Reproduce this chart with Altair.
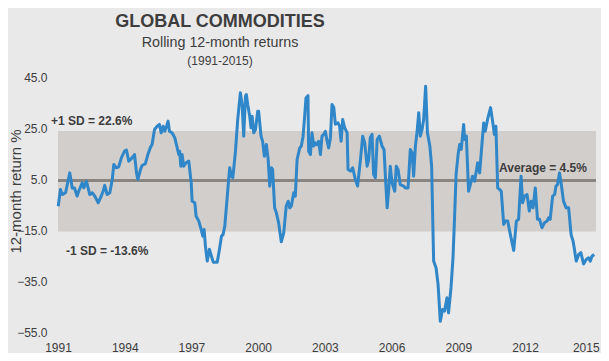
import altair as alt
import pandas as pd

# ---- data ----
years = [
    1991.01, 1991.11, 1991.19, 1991.34, 1991.53, 1991.64, 1991.74, 1991.86, 1991.93,
    1992.09, 1992.16, 1992.28, 1992.43, 1992.54, 1992.64, 1992.81, 1992.91,
    1993.03, 1993.10, 1993.21, 1993.33, 1993.44, 1993.51, 1993.62, 1993.73, 1993.85, 1993.99,
    1994.08, 1994.18, 1994.33, 1994.44, 1994.53, 1994.59, 1994.71, 1994.78, 1994.93,
    1995.04, 1995.16, 1995.23, 1995.34, 1995.46, 1995.56, 1995.64, 1995.73, 1995.80, 1995.88, 1995.95,
    1996.01, 1996.13, 1996.25, 1996.36, 1996.43, 1996.47, 1996.52, 1996.58, 1996.65, 1996.76, 1996.88, 1996.99,
    1997.03, 1997.15, 1997.21, 1997.33, 1997.44, 1997.51, 1997.57, 1997.63, 1997.71, 1997.81, 1997.90, 1997.98,
    1998.16, 1998.26, 1998.35, 1998.42, 1998.50, 1998.60, 1998.68, 1998.72, 1998.80, 1998.86, 1998.98,
    1999.08, 1999.20, 1999.28, 1999.35, 1999.43, 1999.47, 1999.53, 1999.62, 1999.68, 1999.73, 1999.80, 1999.88, 1999.98,
    2000.02, 2000.13, 2000.20, 2000.28, 2000.37, 2000.45, 2000.52, 2000.60, 2000.65, 2000.74, 2000.82, 2000.92,
    2001.04, 2001.15, 2001.26, 2001.35, 2001.42, 2001.49, 2001.60, 2001.67, 2001.75, 2001.87, 2001.94,
    2002.02, 2002.09, 2002.15, 2002.24, 2002.27, 2002.35, 2002.42, 2002.50, 2002.57, 2002.65, 2002.72, 2002.80, 2002.87, 2002.95,
    2003.02, 2003.10, 2003.17, 2003.25, 2003.32, 2003.40, 2003.47, 2003.59, 2003.66, 2003.73, 2003.80, 2003.89,
    2004.00, 2004.04, 2004.15, 2004.25, 2004.37, 2004.47, 2004.60, 2004.70, 2004.79, 2004.90, 2004.97,
    2005.04, 2005.12, 2005.19, 2005.27, 2005.35, 2005.45, 2005.57, 2005.66, 2005.72, 2005.80, 2005.87, 2005.94,
    2006.02, 2006.14, 2006.21, 2006.29, 2006.39, 2006.54, 2006.62, 2006.74, 2006.84, 2006.92, 2006.99,
    2007.07, 2007.14, 2007.22, 2007.29, 2007.37, 2007.44, 2007.53, 2007.61, 2007.72, 2007.80, 2007.86, 2007.89,
    2008.00, 2008.09, 2008.19, 2008.29, 2008.38, 2008.49, 2008.56, 2008.67, 2008.76, 2008.83, 2008.90, 2008.99,
    2009.06, 2009.13, 2009.24, 2009.28, 2009.36, 2009.46, 2009.54, 2009.64, 2009.73, 2009.87, 2009.96,
    2010.06, 2010.14, 2010.21, 2010.33, 2010.45, 2010.54, 2010.62, 2010.69, 2010.77, 2010.86, 2010.93,
    2011.04, 2011.11, 2011.22, 2011.34, 2011.49, 2011.61, 2011.71, 2011.82, 2011.89, 2011.98,
    2012.09, 2012.19, 2012.27, 2012.36, 2012.46, 2012.56, 2012.65, 2012.76, 2012.87, 2012.99,
    2013.06, 2013.13, 2013.24, 2013.33, 2013.39, 2013.46, 2013.55, 2013.63, 2013.73, 2013.85, 2013.96,
    2014.07, 2014.16, 2014.21, 2014.30, 2014.41, 2014.51, 2014.63, 2014.75, 2014.86, 2014.93,
    2015.01, 2015.11,
]
returns = [
    -5.7, 0.9, -1.1, -0.4, 7.4, 1.5, 1.5, -1.7, 0.2,
    3.5, 1.5, 4.1, -1.1, -0.4, -1.5, -4.3, -2.4,
    0.2, 2.5, -1.1, -0.4, 4.8, 10.7, 9.4, 9.8, 13.3, 15.9,
    16.3, 12.0, 13.3, 14.6, 7.4, 4.8, 8.7, 10.3, 11.0,
    14.6, 17.5, 18.5, 24.4, 25.7, 26.4, 23.1, 25.7, 23.7, 25.7, 27.7,
    23.7, 23.1, 21.2, 17.2, 14.6, 15.9, 10.0, 14.6, 10.0, 11.4, 12.0, 3.5,
    -3.7, -4.3, -9.6, -11.5, -14.8, -17.4, -14.8, -21.4, -27.2, -22.6, -25.3, -27.6,
    -27.6, -22.6, -17.4, -16.8, -13.5, -3.0, 5.5, 9.4, 6.1, 5.5, 15.9,
    28.3, 38.8, 34.0, 21.8, 37.5, 38.1, 34.2, 29.6, 25.1, 29.6, 23.1, 24.4, 31.6,
    31.6, 21.8, 19.8, 13.9, 18.5, 12.6, 2.2, 9.4, 8.7, -6.3, -8.3, -12.2,
    -19.6, -16.1, -5.7, -3.7, -6.3, -5.7, -0.4, -1.7, 12.6, 17.2, 17.9,
    21.8, 29.6, 36.8, 37.7, 15.9, 14.6, 23.1, 17.9, 19.2, 18.5, 19.8, 14.6, 21.8, 22.5,
    23.7, 19.8, 17.2, 21.2, 34.2, 33.0, 26.5, 27.0, 25.7, 19.8, 28.3, 25.1,
    23.1, 8.7, 8.1, 9.4, 4.8, 2.2, 12.6, 21.8, 19.2, 10.0, 12.6,
    21.2, 22.5, 6.8, 5.5, 20.5, 21.8, 17.9, 16.6, 6.1, -6.3, 0.9, 10.0,
    3.5, 0.2, 10.0, 8.7, 2.8, 2.2, 1.5, 1.5, 16.6, 15.3, 6.1,
    17.9, 23.1, 31.0, 21.8, 24.4, 28.3, 41.4, 23.1, 17.9, 10.0, -15.0, -27.2,
    -29.9, -36.4, -50.8, -46.2, -46.8, -41.6, -47.5, -37.7, -25.9, -10.2, 6.8, 14.6,
    18.5, 16.6, 26.4, 20.5, 21.8, 0.2, 2.8, 6.1, 4.1, 11.4, 7.4,
    18.5, 27.0, 23.7, 29.0, 33.0, 27.7, 22.5, 25.7, 1.5, 0.9, 0.2,
    -12.8, -11.5, -11.5, -16.8, -23.0, -11.5, -10.8, 6.1, -4.3, -1.7,
    -1.1, -7.6, -3.7, -6.3, 1.5, -10.8, -10.8, -14.1, -12.2, -11.5,
    -10.2, -10.8, -1.7, -1.1, 2.2, 2.8, 7.4, 2.8, -3.7, -6.3, -6.3,
    -16.8, -19.4, -22.0, -27.2, -24.6, -23.9, -28.3, -26.6, -25.9, -27.2,
    -25.3, -24.6,
]
x_ticks = [1991, 1994, 1997, 2000, 2003, 2006, 2009, 2012, 2015]
y_ticks = [-55, -35, -15, 5, 25, 45]
x_domain = [1991, 2015.19]
y_domain = [-55, 45]
band_top = 23.8
band_bottom = -15.6
average = 4.4
x_start, x_end = 1991, 2015.19

title_lines = ["GLOBAL COMMODITIES", "Rolling 12-month returns", "(1991-2015)"]
label_plus = "+1 SD = 22.6%"
label_minus = "-1 SD = -13.6%"
label_avg = "Average = 4.5%"

FONT = "Liberation Sans"
TXT = "#3d3d3d"

df = pd.DataFrame({"year": years, "ret": returns})
band_df = pd.DataFrame({"x": [x_start], "x2": [x_end], "y": [band_top], "y2": [band_bottom]})
avg_df = pd.DataFrame({"x": [x_start], "x2": [x_end], "y": [average]})

xscale = alt.Scale(domain=x_domain, nice=False, zero=False)
yscale = alt.Scale(domain=y_domain, nice=False, zero=False)

xaxis = alt.Axis(values=x_ticks, format="d", title=None, grid=False, domain=False,
                 ticks=False, tickSize=0, labelPadding=10, labelFontSize=12,
                 labelColor=TXT, labelFont=FONT, labelFlush=False,
                 labelOffset={"condition": {"test": "datum.value >= 2015", "value": -6}, "value": 0})
yaxis = alt.Axis(values=y_ticks, format=".1f", title="12-month return %", grid=False,
                 domain=False, ticks=False, tickSize=0, labelPadding=11, labelFontSize=12,
                 labelColor=TXT, labelFont=FONT, titleFont=FONT, titleFontSize=15,
                 titleFontWeight="normal", titleColor=TXT, titleX=-38, titleY=114,
                 titleAngle=270, titleAlign="center", titleBaseline="alphabetic")

band = alt.Chart(band_df).mark_rect(color="#d2cecb").encode(
    x=alt.X("x:Q", scale=xscale, axis=xaxis), x2="x2",
    y=alt.Y("y:Q", scale=yscale, axis=yaxis), y2="y2")

avg_line = alt.Chart(avg_df).mark_rule(color="#8b8582", strokeWidth=3).encode(
    x=alt.X("x:Q", scale=xscale, axis=xaxis), x2="x2",
    y=alt.Y("y:Q", scale=yscale, axis=yaxis))

line = alt.Chart(df).mark_line(color="#2f86c8", strokeWidth=3, strokeJoin="round").encode(
    x=alt.X("year:Q", scale=xscale, axis=xaxis),
    y=alt.Y("ret:Q", scale=yscale, axis=yaxis))

def txt(s, x, y, size, weight="normal", align="left"):
    return alt.Chart(pd.DataFrame({"t": [s]})).mark_text(
        font=FONT, fontSize=size, fontWeight=weight, color=TXT, align=align,
        baseline="alphabetic").encode(text="t:N", x=alt.value(x), y=alt.value(y))

texts = [
    txt(title_lines[0], 162, -50, 18, "bold", "center"),
    txt(title_lines[1], 162, -30, 14.3, "normal", "center"),
    txt(title_lines[2], 162, -12, 12, "normal", "center"),
    txt(label_plus, -7, 48, 12, "bold"),
    txt(label_minus, 8, 178, 12, "bold"),
    txt(label_avg, 441, 95, 12, "bold"),
]

chart = alt.layer(band, avg_line, line, *texts).properties(
    width=538, height=255,
    autosize=alt.AutoSizeParams(type="none"),
    padding={"left": 50, "top": 69, "right": 5, "bottom": 21},
    background="#e9e9e9",
).configure_view(stroke=None)

chart.save("out.html", embed_options={"renderer": "svg", "actions": False})
